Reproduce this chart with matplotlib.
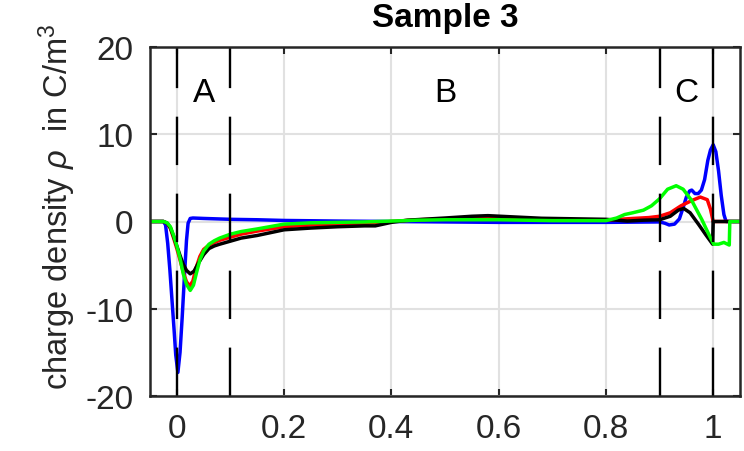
import matplotlib
matplotlib.use("Agg")
import matplotlib.pyplot as plt

plt.rcParams['font.family'] = ['Liberation Sans', 'DejaVu Sans']
plt.rcParams['mathtext.fontset'] = 'custom'
plt.rcParams['mathtext.rm'] = 'Liberation Sans'
plt.rcParams['mathtext.it'] = 'Liberation Sans:italic'
plt.rcParams['axes.unicode_minus'] = False

# charge density profiles (position normalised to sample thickness)
x_blue = [-0.05, -0.025, -0.021, -0.017, -0.013, -0.009, -0.005, -0.002, 0.002, 0.006,
          0.010, 0.014, 0.018, 0.021, 0.025, 0.03, 0.05, 0.1, 0.15, 0.2, 0.3, 0.4, 0.5,
          0.6, 0.7, 0.8, 0.9, 0.91, 0.918, 0.928, 0.937, 0.944, 0.95, 0.956, 0.96, 0.966,
          0.972, 0.978, 0.984, 0.99, 0.995, 1.0, 1.005, 1.01, 1.015, 1.02, 1.024, 1.05]
y_blue = [0, 0, -0.4, -2.5, -5.5, -9, -12.5, -15.3, -17.3, -15,
          -11, -6.5, -2.2, -0.2, 0.35, 0.4, 0.35, 0.25, 0.2, 0.12, 0.05, 0.0, -0.05,
          -0.1, -0.1, -0.1, -0.05, -0.2, -0.4, -0.3, 0.3, 1.6, 2.8, 3.5, 3.6, 3.2,
          3.2, 3.6, 4.8, 7.0, 8.2, 8.8, 8.0, 5.8, 3.0, 0.8, 0.0, 0.0]

x_red = [-0.05, -0.025, -0.018, -0.012, -0.006, 0.0, 0.006, 0.012, 0.018, 0.024, 0.030,
         0.036, 0.043, 0.05, 0.06, 0.07, 0.08, 0.1, 0.12, 0.15, 0.2, 0.25, 0.3, 0.35, 0.4,
         0.45, 0.5, 0.55, 0.58, 0.62, 0.68, 0.75, 0.8, 0.85, 0.88, 0.9, 0.92, 0.94, 0.96,
         0.976, 0.989, 0.995, 1.0, 1.05]
y_red = [0, 0, -0.2, -0.8, -1.9, -3.1, -4.4, -5.8, -6.9, -7.4, -6.8,
         -5.3, -4.0, -3.2, -2.7, -2.4, -2.15, -1.8, -1.45, -1.1, -0.6, -0.4, -0.3, -0.22, 0.0,
         0.2, 0.3, 0.38, 0.4, 0.35, 0.2, 0.15, 0.15, 0.35, 0.45, 0.6, 1.0, 1.8, 2.4,
         2.8, 2.5, 1.4, 0.0, 0.0]

x_black = [-0.05, -0.025, -0.018, -0.012, -0.006, 0.0, 0.006, 0.012, 0.018, 0.025, 0.032,
           0.04, 0.05, 0.06, 0.07, 0.08, 0.1, 0.12, 0.15, 0.2, 0.25, 0.3, 0.35, 0.37, 0.4,
           0.43, 0.5, 0.55, 0.58, 0.62, 0.68, 0.75, 0.8, 0.84, 0.87, 0.9, 0.92, 0.935,
           0.945, 0.957, 0.973, 0.986, 0.999, 1.0, 1.05]
y_black = [0, 0, -0.2, -0.7, -1.7, -2.8, -3.9, -4.9, -5.6, -6.0, -5.7,
           -4.8, -3.8, -3.1, -2.8, -2.6, -2.25, -1.9, -1.6, -0.95, -0.75, -0.6, -0.5, -0.5, -0.1,
           0.15, 0.4, 0.6, 0.67, 0.55, 0.37, 0.3, 0.25, 0.05, 0.15, 0.2, 0.6, 1.3,
           1.5, 1.0, -0.35, -1.5, -2.6, 0.0, 0.0]

x_green = [-0.05, -0.025, -0.018, -0.012, -0.006, 0.0, 0.006, 0.012, 0.018, 0.025, 0.031,
           0.037, 0.043, 0.05, 0.06, 0.07, 0.08, 0.1, 0.12, 0.15, 0.2, 0.25, 0.3, 0.35, 0.4,
           0.45, 0.5, 0.6, 0.7, 0.8, 0.82, 0.835, 0.85, 0.87, 0.885, 0.9, 0.915, 0.931,
           0.944, 0.96, 0.979, 0.992, 1.001, 1.01, 1.02, 1.03, 1.031, 1.05]
y_green = [0, 0, -0.15, -0.6, -1.6, -2.8, -4.2, -6.0, -7.2, -7.9, -7.3,
           -5.8, -4.4, -3.4, -2.6, -2.2, -1.9, -1.45, -1.15, -0.85, -0.3, -0.15, -0.1, -0.05, 0.05,
           0.15, 0.2, 0.2, 0.1, 0.1, 0.4, 0.8, 1.0, 1.3, 1.8, 2.6, 3.7, 4.1,
           3.7, 2.4, 0.2, -1.5, -2.6, -2.6, -2.4, -2.7, 0.0, 0.0]

# region boundaries and labels
boundaries = [0, 0.1, 0.9, 1.0]
region_names = ["A", "B", "C"]
region_x = [0.05, 0.5, 0.95]
region_y = 14.8

xticks = [0, 0.2, 0.4, 0.6, 0.8, 1]
xticklabels = ["0", "0.2", "0.4", "0.6", "0.8", "1"]
yticks = [-20, -10, 0, 10, 20]

fig = plt.figure(figsize=(7.44, 4.52), dpi=100)
ax = fig.add_axes([150 / 744, 55 / 452, 590 / 744, 349 / 452])

lw = 2.5
ax.plot(x_blue, y_blue, color=(0, 0, 1), lw=lw)
ax.plot(x_red, y_red, color=(1, 0, 0), lw=lw)
ax.plot(x_black, y_black, color="k", lw=lw)
ax.plot(x_green, y_green, color=(0, 1, 0), lw=lw)

dlw = 1.7
for b in boundaries:
    ax.plot([b, b], [-20, 20], color="k", lw=dlw, linestyle=(0, (20.5, 12.1)),
            solid_capstyle="butt")

for name, xr in zip(region_names, region_x):
    ax.text(xr, region_y, name, ha="center", va="center", fontsize=24, color="k")

ax.set_xlim(-0.05, 1.05)
ax.set_ylim(-20, 20)
ax.set_xticks(xticks)
ax.set_xticklabels(xticklabels)
ax.set_yticks(yticks)

ax.grid(True, color="#e1e1e1", lw=1.5)
ax.set_axisbelow(True)

dark = "#262626"
for s in ax.spines.values():
    s.set_color(dark)
    s.set_linewidth(1.8)
ax.tick_params(direction="in", length=5, width=1.5, color=dark, labelcolor=dark,
               labelsize=24, top=True, right=True)
ax.tick_params(axis="x", pad=12)
ax.tick_params(axis="y", pad=12)

ax.set_title("Sample 3", fontsize=24, fontweight="bold", pad=15)
ax.set_ylabel(r"charge density $\rho$  in C/m$^3$", fontsize=23.5, color=dark)
ax.yaxis.set_label_coords(-0.122, 0.545)

fig.savefig("out.png", dpi=100)
